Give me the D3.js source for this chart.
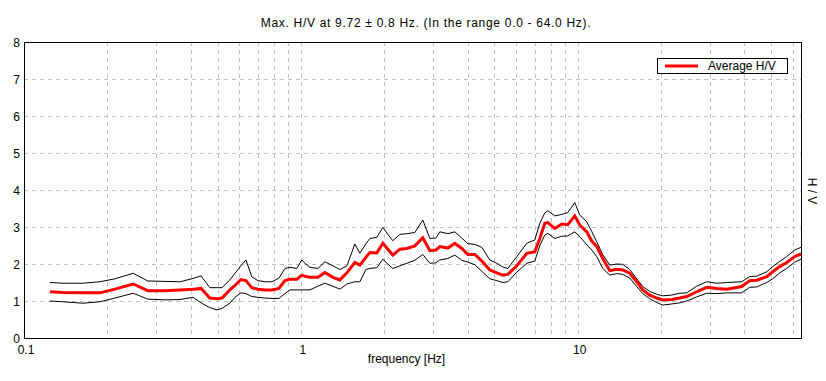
<!DOCTYPE html>
<meta charset="utf-8">
<style>
body { margin: 0; background: #fff; }
text { font-family: Arial, "Liberation Sans", sans-serif; font-size: 12px; fill: #000; }
.grid line { stroke: #c0c0c0; stroke-dasharray: 4,4; shape-rendering: crispEdges; }
.frame { fill: none; stroke: #000; shape-rendering: crispEdges; }
.band { fill: none; stroke: #000; stroke-width: 1; }
.avg { fill: none; stroke: #ff0000; stroke-width: 3; }
</style>
<svg width="826" height="381"></svg>
<script src="https://d3js.org/d3.v7.min.js"></script>
<script>
// H/V spectral ratio with +/- std band

var freq = [0.124, 0.138, 0.163, 0.188, 0.213, 0.248, 0.280, 0.323, 0.366, 0.408,
  0.436, 0.469, 0.498, 0.519, 0.554, 0.578, 0.607, 0.633, 0.665, 0.700,
  0.741, 0.786, 0.833, 0.876, 0.913, 0.967, 1.008, 1.042, 1.078, 1.152,
  1.221, 1.305, 1.383, 1.466, 1.566, 1.633, 1.717, 1.775, 1.881, 1.977,
  2.061, 2.148, 2.278, 2.414, 2.580, 2.756, 2.922, 3.072, 3.176, 3.394,
  3.597, 3.813, 4.008, 4.249, 4.503, 4.812, 5.100, 5.361, 5.589, 6.023,
  6.545, 6.995, 7.292, 7.602, 7.794, 8.260, 8.755, 9.202, 9.754, 10.17,
  10.78, 11.23, 11.71, 12.31, 13.05, 13.83, 14.54, 15.41, 16.33, 17.17,
  18.19, 19.29, 20.27, 21.85, 23.34, 24.74, 26.89, 29.22, 31.76, 34.51,
  39.09, 41.78, 44.29, 48.13, 50.58, 53.60, 56.82, 60.73, 64.0];

var avgHV = [1.25, 1.23, 1.22, 1.22, 1.32, 1.46, 1.28, 1.28, 1.30, 1.32,
  1.34, 1.08, 1.06, 1.08, 1.30, 1.42, 1.58, 1.55, 1.36, 1.32,
  1.30, 1.30, 1.34, 1.55, 1.59, 1.59, 1.70, 1.66, 1.64, 1.64,
  1.77, 1.64, 1.57, 1.76, 2.04, 1.97, 2.18, 2.31, 2.30, 2.56,
  2.40, 2.24, 2.40, 2.42, 2.49, 2.71, 2.36, 2.38, 2.47, 2.43,
  2.56, 2.42, 2.26, 2.26, 2.08, 1.84, 1.76, 1.70, 1.72, 1.95,
  2.29, 2.33, 2.69, 3.10, 3.12, 2.96, 3.08, 3.06, 3.30, 3.05,
  2.87, 2.62, 2.47, 2.15, 1.82, 1.86, 1.84, 1.75, 1.52, 1.30,
  1.16, 1.08, 1.03, 1.04, 1.08, 1.12, 1.25, 1.37, 1.34, 1.32,
  1.39, 1.55, 1.56, 1.66, 1.79, 1.93, 2.04, 2.20, 2.27];

var upperHV = [1.50, 1.48, 1.48, 1.52, 1.60, 1.75, 1.54, 1.53, 1.52, 1.61,
  1.68, 1.36, 1.36, 1.36, 1.57, 1.75, 1.95, 2.11, 1.65, 1.55,
  1.52, 1.52, 1.62, 1.88, 1.91, 1.88, 2.11, 2.00, 1.91, 1.88,
  2.06, 1.95, 1.85, 1.95, 2.54, 2.29, 2.55, 2.69, 2.72, 2.99,
  2.80, 2.63, 2.80, 2.82, 2.85, 3.19, 2.69, 2.70, 2.87, 2.82,
  2.87, 2.70, 2.55, 2.53, 2.45, 2.11, 2.02, 1.92, 1.88, 2.20,
  2.56, 2.65, 3.10, 3.38, 3.44, 3.30, 3.34, 3.39, 3.66, 3.32,
  3.14, 2.88, 2.60, 2.25, 1.97, 2.00, 1.99, 1.85, 1.60, 1.39,
  1.26, 1.18, 1.14, 1.16, 1.21, 1.22, 1.40, 1.52, 1.48, 1.50,
  1.52, 1.66, 1.67, 1.79, 1.93, 2.07, 2.20, 2.38, 2.45];

var lowerHV = [1.00, 0.98, 0.94, 0.98, 1.08, 1.21, 1.05, 1.03, 1.04, 1.10,
  0.95, 0.82, 0.76, 0.80, 0.94, 1.10, 1.22, 1.20, 1.12, 1.10,
  1.08, 1.07, 1.07, 1.20, 1.30, 1.30, 1.30, 1.30, 1.30, 1.40,
  1.48, 1.40, 1.32, 1.46, 1.52, 1.52, 1.85, 1.88, 1.90, 2.13,
  2.00, 1.88, 1.95, 2.02, 2.10, 2.26, 2.02, 2.03, 2.11, 2.15,
  2.24, 2.10, 2.05, 1.98, 1.80, 1.60, 1.55, 1.50, 1.52, 1.78,
  2.02, 2.08, 2.50, 2.78, 2.83, 2.69, 2.75, 2.76, 2.87, 2.74,
  2.52, 2.38, 2.20, 1.88, 1.70, 1.74, 1.72, 1.62, 1.39, 1.20,
  1.06, 0.96, 0.89, 0.92, 0.95, 1.00, 1.11, 1.21, 1.20, 1.22,
  1.22, 1.37, 1.38, 1.50, 1.60, 1.76, 1.88, 2.05, 2.13];

var xTickLabels = [0.1, 1, 10];
var xGridValues = [0.2, 0.3, 0.4, 0.5, 0.6, 0.7, 0.8, 0.9, 1,
  2, 3, 4, 5, 6, 7, 8, 9, 10, 20, 30, 40, 50, 60];
var yTicks = [0, 1, 2, 3, 4, 5, 6, 7, 8];

var svg = d3.select("svg"),
  margin = {top: 42, right: 25, bottom: 43, left: 24},
  width = svg.attr("width") - margin.left - margin.right,
  height = svg.attr("height") - margin.top - margin.bottom;

var x = d3.scaleLog().domain([0.1, 64]).range([0, width]);
var y = d3.scaleLinear().domain([0, 8]).range([height, 0]);

var g = svg.append("g")
  .attr("transform", "translate(" + margin.left + "," + margin.top + ")");

// dashed grid
var grid = g.append("g").attr("class", "grid");
grid.selectAll("line.v").data(xGridValues).enter().append("line")
  .attr("class", "v")
  .attr("x1", function(d) { return Math.round(x(d)) + 0.5; })
  .attr("x2", function(d) { return Math.round(x(d)) + 0.5; })
  .attr("y1", 0).attr("y2", height);
grid.selectAll("line.h").data(yTicks.slice(1, -1)).enter().append("line")
  .attr("class", "h")
  .attr("x1", 0).attr("x2", width)
  .attr("y1", function(d) { return Math.round(y(d)) + 0.5; })
  .attr("y2", function(d) { return Math.round(y(d)) + 0.5; });

g.append("rect").attr("class", "frame")
  .attr("x", 0.5).attr("y", 0.5)
  .attr("width", width).attr("height", height);

// tick labels
g.selectAll("text.ylab").data(yTicks).enter().append("text")
  .attr("class", "ylab")
  .attr("x", -4)
  .attr("y", function(d) { return y(d) + 5; })
  .attr("text-anchor", "end")
  .text(function(d) { return d; });

g.selectAll("text.xlab").data(xTickLabels).enter().append("text")
  .attr("class", "xlab")
  .attr("x", function(d) { return x(d) + 2; })
  .attr("y", height + 16)
  .attr("text-anchor", "middle")
  .text(function(d) { return d; });

// curves
var line = d3.line()
  .x(function(d) { return x(d[0]); })
  .y(function(d) { return y(d[1]); });

function pairs(vals) { return freq.map(function(f, i) { return [f, vals[i]]; }); }

g.append("path").attr("class", "band").attr("d", line(pairs(upperHV)));
g.append("path").attr("class", "band").attr("d", line(pairs(lowerHV)));
g.append("path").attr("class", "avg").attr("d", line(pairs(avgHV)));

// legend
var leg = g.append("g").attr("transform", "translate(" + (width - 144) + ",16)");
leg.append("rect").attr("class", "frame")
  .attr("x", 0.5).attr("y", 0.5).attr("width", 130).attr("height", 15)
  .style("fill", "#fff");
leg.append("line").attr("x1", 8).attr("x2", 41).attr("y1", 8).attr("y2", 8)
  .style("stroke", "#ff0000").style("stroke-width", 3);
leg.append("text").attr("x", 51).attr("y", 12).text("Average H/V");

// titles
svg.append("text")
  .attr("x", 426).attr("y", 27)
  .attr("text-anchor", "middle")
  .style("letter-spacing", "0.7px")
  .text("Max. H/V at 9.72 \u00b1 0.8 Hz. (In the range 0.0 - 64.0 Hz).");

svg.append("text")
  .attr("x", margin.left + width / 2 - 6).attr("y", height + margin.top + 25)
  .attr("text-anchor", "middle")
  .text("frequency [Hz]");

svg.append("text")
  .attr("transform", "translate(808,191) rotate(90)")
  .attr("text-anchor", "middle")
  .text("H / V");
</script>
